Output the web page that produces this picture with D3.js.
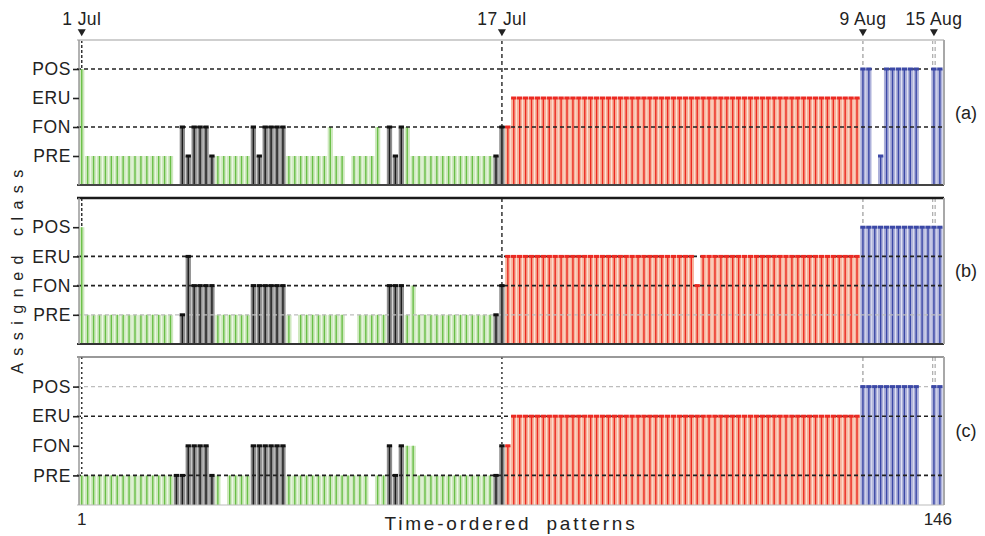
<!DOCTYPE html>
<html><head><meta charset="utf-8">
<script src="https://cdn.jsdelivr.net/npm/d3@7"></script>
<style>
body{margin:0;background:#fff;}
svg{display:block;font-family:"Liberation Sans",Arial,sans-serif;}
</style>
</head><body>
<svg id="chart" width="985" height="536"></svg>
<script>
// ---------------- DATA ----------------
const classNames = ["PRE", "FON", "ERU", "POS"];          // class 1..4
const panelLabels = ["(a)", "(b)", "(c)"];
const dateLabels = ["1 Jul", "17 Jul", "9 Aug", "15 Aug"];
const dateIndex = [1, 72, 133, 145];                       // pattern index of each date
const firstLabel = "1";
const lastLabel = "146";
const xTitle = "Time-ordered patterns";
const yTitle = "Assigned class";

// reference period of each pattern (1 = pre-eruptive, 2 = fountains, 3 = eruptive, 4 = post-eruptive)
const period = [
  1,1,1,1,1,1,1,1,1,1,
  1,1,1,1,1,1,2,2,2,2,
  2,2,2,1,1,1,1,1,1,2,
  2,2,2,2,2,1,1,1,1,1,
  1,1,1,1,1,1,1,1,1,1,
  1,1,2,2,2,1,1,1,1,1,
  1,1,1,1,1,1,1,1,1,1,
  2,2,3,3,3,3,3,3,3,3,
  3,3,3,3,3,3,3,3,3,3,
  3,3,3,3,3,3,3,3,3,3,
  3,3,3,3,3,3,3,3,3,3,
  3,3,3,3,3,3,3,3,3,3,
  3,3,3,3,3,3,3,3,3,3,
  3,3,4,4,4,4,4,4,4,4,
  4,4,4,4,4,4
];

// assigned class per pattern (0 = not assigned)
const classA = [
  4,1,1,1,1,1,1,1,1,1,
  1,1,1,1,1,1,0,2,1,2,
  2,2,1,1,1,1,1,1,1,2,
  1,2,2,2,2,1,1,1,1,1,
  1,1,2,1,1,0,1,1,1,1,
  2,0,2,1,2,2,1,1,1,1,
  1,1,1,1,1,1,1,1,1,1,
  1,2,2,3,3,3,3,3,3,3,
  3,3,3,3,3,3,3,3,3,3,
  3,3,3,3,3,3,3,3,3,3,
  3,3,3,3,3,3,3,3,3,3,
  3,3,3,3,3,3,3,3,3,3,
  3,3,3,3,3,3,3,3,3,3,
  3,3,4,4,0,1,4,4,4,4,
  4,4,0,0,4,4
];
const classB = [
  4,1,1,1,1,1,1,1,1,1,
  1,1,1,1,1,1,0,1,3,2,
  2,2,2,1,1,1,1,1,1,2,
  2,2,2,2,2,1,0,1,1,1,
  1,1,1,1,1,0,0,1,1,1,
  1,1,2,2,2,1,2,1,1,1,
  1,1,1,1,1,1,1,1,1,1,
  1,2,3,3,3,3,3,3,3,3,
  3,3,3,3,3,3,3,3,3,3,
  3,3,3,3,3,3,3,3,3,3,
  3,3,3,3,2,3,3,3,3,3,
  3,3,3,3,3,3,3,3,3,3,
  3,3,3,3,3,3,3,3,3,3,
  3,3,4,4,4,4,4,4,4,4,
  4,4,4,4,4,4
];
const classC = [
  1,1,1,1,1,1,1,1,1,1,
  1,1,1,1,1,1,1,1,2,2,
  2,2,1,1,0,1,1,1,1,2,
  2,2,2,2,2,1,1,1,1,1,
  1,1,1,1,1,1,1,1,1,0,
  1,1,2,1,2,2,2,1,1,1,
  1,1,1,1,1,1,1,1,1,1,
  1,2,2,3,3,3,3,3,3,3,
  3,3,3,3,3,3,3,3,3,3,
  3,3,3,3,3,3,3,3,3,3,
  3,3,3,3,3,3,3,3,3,3,
  3,3,3,3,3,3,3,3,3,3,
  3,3,3,3,3,3,3,3,3,3,
  3,3,4,4,4,4,4,4,4,4,
  4,4,0,0,4,4
];
const panelData = [classA, classB, classC];

// ---------------- STYLE ----------------
const lineColor = {1:"#6abf48", 2:"#1c1c1c", 3:"#ec2a22", 4:"#3b48a6"};
const fillColor = {1:"#cfe9bf", 2:"#8e8e8e", 3:"#f7b49c", 4:"#adb1da"};
const markColor = {1:null, 2:"#111", 3:"#ec2a22", 4:"#3b48a6"};

const svg = d3.select("#chart");
const left = 77, right = 944;
const x = d3.scaleLinear().domain([0.2, 146.7]).range([left, right]);
const step = x(2) - x(1);

const panels = [
  {top: 40, bottom: 185, topStroke: "#cfcfcf", topW: 2, botStroke: "#444", botW: 2,
   levels: {4: "dark", 2: "dark"}, dateStyles: ["dark","dark","gray","gray"]},
  {top: 198, bottom: 344, topStroke: "#1a1a1a", topW: 2.5, botStroke: "#333", botW: 2,
   levels: {3: "dark", 2: "dark", 1: "light"}, dateStyles: ["dark","dark","gray","gray"]},
  {top: 357, bottom: 505, topStroke: "#777", topW: 1.5, botStroke: "#bbb", botW: 1,
   levels: {4: "light", 3: "dark", 1: "dark"}, dateStyles: ["dark","dark","gray","gray"]}
];

panels.forEach((p, pi) => {
  const y = d3.scaleLinear().domain([0, 5]).range([p.bottom, p.top]);
  const g = svg.append("g");
  const vals = panelData[pi];

  // date lines (behind bars)
  dateIndex.forEach((di, k) => {
    const st = p.dateStyles[k];
    const xx = x(di);
    if (k === 3) {
      [-1.2, 1.2].forEach(o => g.append("line")
        .attr("x1", xx + o).attr("x2", xx + o).attr("y1", p.top).attr("y2", p.bottom)
        .attr("stroke", "#999").attr("stroke-width", 1).attr("stroke-dasharray", "4,3"));
    } else {
      g.append("line").attr("x1", xx).attr("x2", xx).attr("y1", p.top).attr("y2", p.bottom)
        .attr("stroke", st === "dark" ? "#333" : "#999")
        .attr("stroke-width", st === "dark" ? 1.5 : 1.2)
        .attr("stroke-dasharray", k === 0 && pi < 2 ? "3,2" : (pi === 2 && k < 2 ? "2,3" : "4,3"));
    }
  });

  const items = vals.map((v, i) => ({i: i + 1, v, c: period[i]})).filter(d => d.v > 0);

  // bar fills
  g.selectAll("rect.bar").data(items).join("rect").attr("class", "bar")
    .attr("x", d => x(d.i) - step / 2 + 0.3)
    .attr("width", step - 0.6)
    .attr("y", d => y(d.v))
    .attr("height", d => y(0) - y(d.v))
    .attr("fill", d => fillColor[d.c]);

  // stems
  g.selectAll("line.stem").data(items).join("line").attr("class", "stem")
    .attr("x1", d => x(d.i)).attr("x2", d => x(d.i))
    .attr("y1", y(0)).attr("y2", d => y(d.v))
    .attr("stroke", d => lineColor[d.c]).attr("stroke-width", 1.4);

  // level dashed lines (over bars)
  Object.entries(p.levels).forEach(([lv, st]) => {
    g.append("line").attr("x1", left).attr("x2", right)
      .attr("y1", y(+lv)).attr("y2", y(+lv))
      .attr("stroke", st === "dark" ? "#222" : "#bdbdbd")
      .attr("stroke-width", st === "dark" ? 1.6 : 1.2)
      .attr("stroke-dasharray", "4,3");
  });

  // top markers
  g.selectAll("line.mark").data(items.filter(d => markColor[d.c])).join("line").attr("class", "mark")
    .attr("x1", d => x(d.i) - step / 2 + 0.3).attr("x2", d => x(d.i) + step / 2 - 0.3)
    .attr("y1", d => y(d.v)).attr("y2", d => y(d.v))
    .attr("stroke", d => markColor[d.c]).attr("stroke-width", 3);

  // frame
  g.append("line").attr("x1", left).attr("x2", right).attr("y1", p.top).attr("y2", p.top)
    .attr("stroke", p.topStroke).attr("stroke-width", p.topW);
  g.append("line").attr("x1", left).attr("x2", right).attr("y1", p.bottom).attr("y2", p.bottom)
    .attr("stroke", p.botStroke).attr("stroke-width", p.botW);
  g.append("line").attr("x1", right).attr("x2", right).attr("y1", p.top).attr("y2", p.bottom)
    .attr("stroke", "#a8a8a8").attr("stroke-width", 2);

  // y axis
  const axis = d3.axisLeft(y).tickValues([1, 2, 3, 4])
    .tickFormat(d => classNames[d - 1]).tickSize(6).tickPadding(2);
  const ag = g.append("g").attr("transform", `translate(${left + 2},0)`).call(axis);
  ag.select(".domain").attr("stroke", "#999").attr("stroke-width", 1.5)
    .attr("d", `M0,${p.top}V${p.bottom}`);
  ag.selectAll(".tick line").attr("stroke", "#222").attr("stroke-width", 1.6);
  ag.selectAll(".tick text").attr("font-size", 17.5).attr("fill", "#222")
    .attr("letter-spacing", 0.6).attr("font-family", '"Liberation Sans",Arial,sans-serif');

  // panel label
  svg.append("text").attr("x", 966).attr("y", (y(2) + y(3)) / 2)
    .attr("dy", "0.35em").attr("text-anchor", "middle")
    .attr("font-size", 18).attr("fill", "#222").text(panelLabels[pi]);
});

// date labels & triangles
dateIndex.forEach((di, k) => {
  svg.append("text").attr("x", x(di)).attr("y", 25).attr("text-anchor", "middle")
    .attr("font-size", 17.5).attr("letter-spacing", 0.4).attr("fill", "#222").text(dateLabels[k]);
  svg.append("path").attr("d", d3.symbol(d3.symbolTriangle, 28)())
    .attr("transform", `translate(${x(di)},31.5) rotate(180)`).attr("fill", "#222");
});

// x end labels
svg.append("text").attr("x", x(1)).attr("y", 525).attr("text-anchor", "middle")
  .attr("font-size", 17).attr("fill", "#222").text(firstLabel);
svg.append("text").attr("x", x(146) - 2).attr("y", 525).attr("text-anchor", "middle")
  .attr("font-size", 17).attr("fill", "#222").text(lastLabel);

// axis titles
svg.append("text").attr("x", 511).attr("y", 530).attr("text-anchor", "middle")
  .attr("font-size", 19).attr("letter-spacing", 2.8).attr("word-spacing", 7)
  .attr("fill", "#222").text(xTitle);
svg.append("text").attr("transform", "translate(23,268) rotate(-90)")
  .attr("text-anchor", "middle").attr("font-size", 16).attr("letter-spacing", 7.5)
  .attr("fill", "#222").text(yTitle);
</script>
</body></html>
